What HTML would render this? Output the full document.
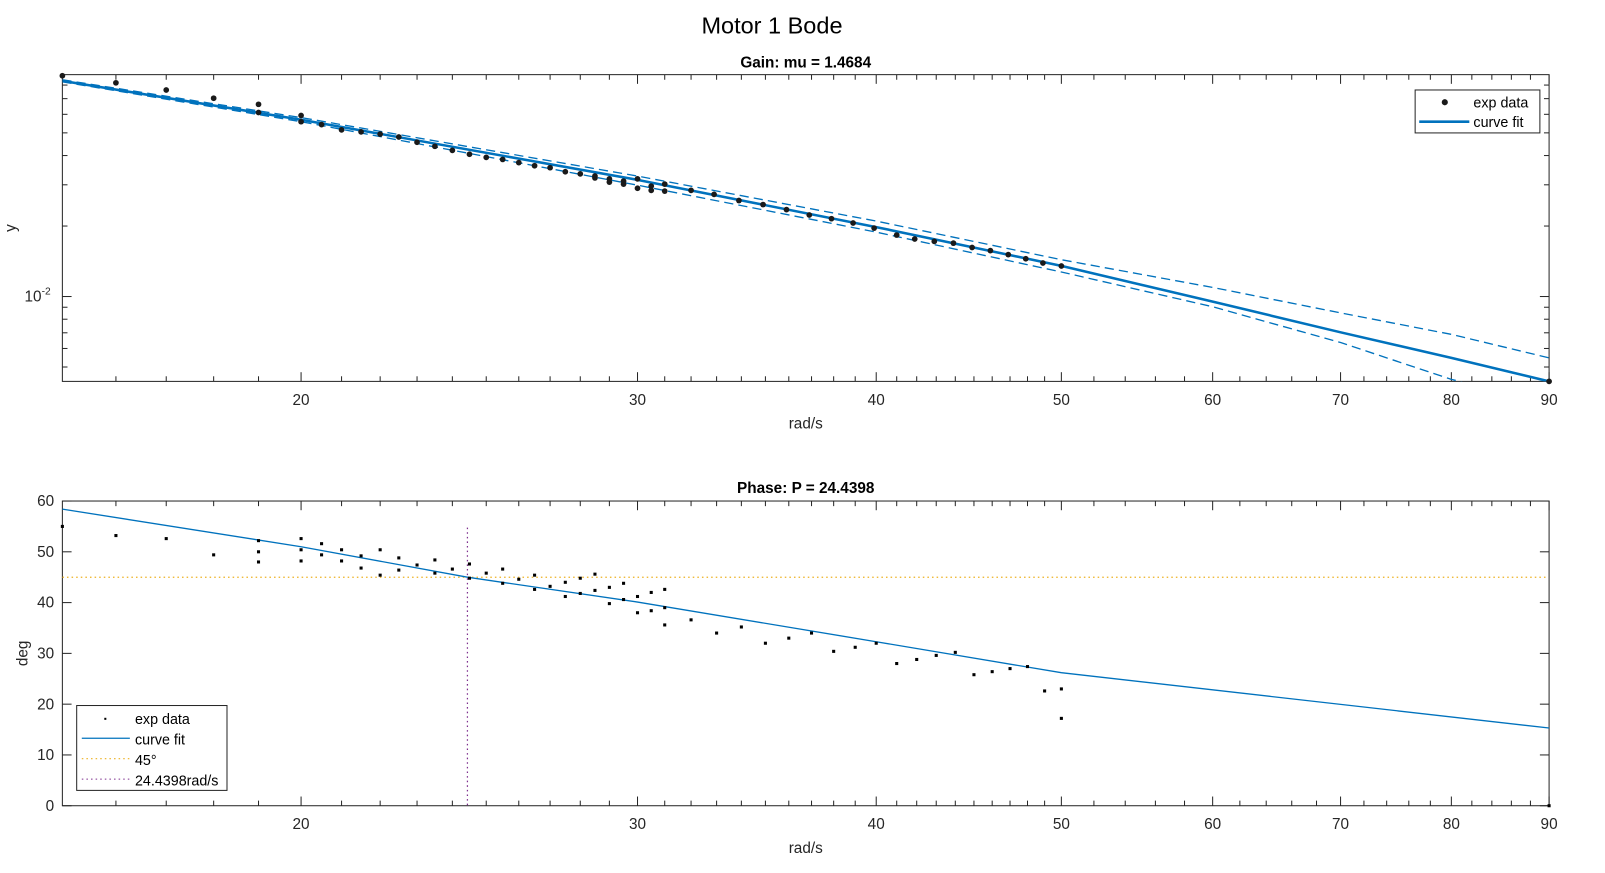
<!DOCTYPE html>
<html><head><meta charset="utf-8"><style>
body{margin:0;background:#fff}
svg{display:block;font-family:"Liberation Sans",Arial,sans-serif}
</style></head><body>
<svg id="chart" width="1605" height="873" viewBox="0 0 1605 873">
<defs><clipPath id="c1"><rect x="61" y="73" width="1454" height="300"/></clipPath></defs>
<rect width="1605" height="873" fill="#fff"/>
<g id="root" transform="scale(1.0225)">
<text x="755" y="33" font-size="23" text-anchor="middle" fill="#000">Motor 1 Bode</text>
<g id="top"></g><g id="bot"></g>
</g>
</svg>
<script>
// ---- data ----
const gainX=[15,16,17,18,19,19,20,20,20.5,21,21.5,22,22.5,23,23.5,24,24.5,25,25.5,26,26.5,27,27.5,28,28.5,28.5,29,29,29.5,29.5,30,30,30.5,30.5,31,31,32,32.9,33.9,34.9,35.9,36.9,37.9,38.9,39.9,41,41.9,42.9,43.9,44.9,45.9,46.9,47.9,48.9,50,90];
const gainY=[0.0877,0.0818,0.0762,0.0703,0.0662,0.0611,0.0593,0.0558,0.0542,0.0515,0.0505,0.0494,0.0480,0.0456,0.0438,0.0421,0.0405,0.0393,0.0385,0.0373,0.0362,0.0355,0.0341,0.0334,0.0327,0.0321,0.0318,0.0308,0.0311,0.0302,0.0318,0.0290,0.0296,0.0284,0.0302,0.0282,0.0284,0.0273,0.0257,0.0247,0.0235,0.0223,0.0215,0.0206,0.0196,0.0183,0.0176,0.0172,0.0169,0.0162,0.0157,0.0151,0.0145,0.0139,0.0135,0.00434];
const fitX=[15,20,30,40,50,60,70,80,90];
const fitY=[0.0834,0.0569,0.0315,0.0198,0.01352,0.00951,0.00703,0.00547,0.00434];
const upY=[0.0843,0.0581,0.0327,0.0210,0.01436,0.01094,0.00851,0.00689,0.00547];
const loY=[0.0826,0.0558,0.0299,0.01884,0.01273,0.00904,0.00636,0.00443,0.00348];
const phX=[15,16,17,18,19,19,19,20,20,20,20.5,20.5,21,21,21.5,21.5,22,22,22.5,22.5,23,23.5,23.5,24,24.5,24.5,25,25.5,25.5,26,26.5,26.5,27,27.5,27.5,28,28,28.5,28.5,29,29,29.5,29.5,30,30,30.5,30.5,31,31,31,32,33,34,35,36,37,38,39,40,41,42,43,44,45,46,47,48,49,50,50,90];
const phY=[55,53.2,52.6,49.4,52.2,50,48,52.6,50.4,48.2,51.6,49.4,50.4,48.2,49.2,46.8,50.4,45.4,48.8,46.4,47.4,48.4,45.8,46.6,47.6,44.8,45.8,46.6,43.8,44.6,45.4,42.6,43.2,44,41.2,44.8,41.8,45.6,42.4,43,39.8,43.8,40.6,41.2,38,42,38.4,42.6,39,35.6,36.6,34,35.2,32,33,34,30.4,31.2,32,28,28.8,29.6,30.2,25.8,26.4,27,27.4,22.6,23,17.2,0];
const phFitX=[15,20,24.4398,30,40,50,90];
const phFitY=[58.4,51,45,40.1,32.3,26.2,15.3];
const xTicks=[20,30,40,50,60,70,80,90];
const yPhTicks=[0,10,20,30,40,50,60];
const gainMinor=[0.003,0.004,0.005,0.006,0.007,0.008,0.009,0.02,0.03,0.04,0.05,0.06,0.07,0.08];
const crossFreq=24.4398;
// ---- scales ----
const L=61,R=1515;
const xs=v=>L+(Math.log10(v)-Math.log10(15))/(Math.log10(90)-Math.log10(15))*(R-L);
const T1=73,B1=373,D=229;
const ys1=v=>290-(Math.log10(v)+2)*D;
const T2=490,B2=788;
const ys2=v=>B2-(v/60)*(B2-T2);
const NS='http://www.w3.org/2000/svg';
function el(p,tag,a){const e=document.createElementNS(NS,tag);for(const k in a)e.setAttribute(k,a[k]);p.appendChild(e);return e;}
function txt(p,x,y,s,a){const t=el(p,'text',Object.assign({x:x,y:y,'font-size':15,fill:'#262626'},a||{}));t.textContent=s;return t;}
const minor=[];for(let v=16;v<50;v++)if(v%10)minor.push(v);for(let v=52;v<90;v+=2)if(v%10)minor.push(v);
function axes(g,T,B){
  el(g,'rect',{x:L,y:T,width:R-L,height:B-T,fill:'none',stroke:'#262626','stroke-width':1});
  xTicks.forEach(v=>{const x=xs(v);el(g,'line',{x1:x,x2:x,y1:B,y2:B-9,stroke:'#262626'});el(g,'line',{x1:x,x2:x,y1:T,y2:T+9,stroke:'#262626'});
    const t=txt(g,x,B+23,String(v),{'text-anchor':'middle'});
    
    });
  minor.forEach(v=>{const x=xs(v);el(g,'line',{x1:x,x2:x,y1:B,y2:B-5,stroke:'#262626'});el(g,'line',{x1:x,x2:x,y1:T,y2:T+5,stroke:'#262626'});});
  const xl=txt(g,(L+R)/2,B+46,'rad/s',{'text-anchor':'middle'});
  
  
}
function pl(xa,ya,sx,sy){return xa.map((v,i)=>sx(v).toFixed(1)+','+sy(ya[i]).toFixed(1)).join(' ');}
// ---- top gain ----
const g1=document.getElementById('top');


axes(g1,T1,B1);
gainMinor.forEach(v=>{const y=ys1(v);if(y<T1||y>B1)return;
  el(g1,'line',{x1:L,x2:L+5,y1:y,y2:y,stroke:'#262626'});el(g1,'line',{x1:R,x2:R-5,y1:y,y2:y,stroke:'#262626'});});
{const y=ys1(0.01);el(g1,'line',{x1:L,x2:L+9,y1:y,y2:y,stroke:'#262626'});el(g1,'line',{x1:R,x2:R-9,y1:y,y2:y,stroke:'#262626'});}
const yl=txt(g1,24,ys1(0.01)+5,'10',{'text-anchor':'start'});


const ex=el(yl,'tspan',{dy:-7,'font-size':10});ex.textContent='-2';
const yt=txt(g1,15,223,'y',{'text-anchor':'middle',transform:'rotate(-90 15 223)'});


const st1=txt(g1,788,66,'Gain: mu = 1.4684',{'text-anchor':'middle','font-weight':'bold','fill':'#000'});


const pc=el(g1,'g',{'clip-path':'url(#c1)'});
[upY,loY].forEach((arr,i)=>{const p=el(pc,'polyline',{points:pl(fitX,arr,xs,ys1),fill:'none',stroke:'#0072BD','stroke-width':1.3,'stroke-dasharray':'9,5'});
  
  });
const fl=el(pc,'polyline',{points:pl(fitX,fitY,xs,ys1),fill:'none',stroke:'#0072BD','stroke-width':2.5});


gainX.forEach((v,i)=>{const c=el(g1,'circle',{cx:xs(v),cy:ys1(gainY[i]),r:2.8,fill:'#1a1a1a'});
  
  });
const lg1=el(g1,'g',{});


el(lg1,'rect',{x:1384,y:88,width:122,height:42,fill:'#fff',stroke:'#262626'});
el(lg1,'circle',{cx:1413,cy:100,r:3,fill:'#1a1a1a'});
txt(lg1,1441,105,'exp data',{'font-size':14,fill:'#000'});
el(lg1,'line',{x1:1388,x2:1437,y1:119,y2:119,stroke:'#0072BD','stroke-width':2.5});
txt(lg1,1441,124,'curve fit',{'font-size':14,fill:'#000'});
// ---- bottom phase ----
const g2=document.getElementById('bot');


axes(g2,T2,B2);
yPhTicks.forEach(v=>{const y=ys2(v);el(g2,'line',{x1:L,x2:L+9,y1:y,y2:y,stroke:'#262626'});el(g2,'line',{x1:R,x2:R-9,y1:y,y2:y,stroke:'#262626'});
  const t=txt(g2,53,y+5,String(v),{'text-anchor':'end'});
  
  });
const yt2=txt(g2,27,639,'deg',{'text-anchor':'middle',transform:'rotate(-90 27 639)'});


const st2=txt(g2,788,482,'Phase: P = 24.4398',{'text-anchor':'middle','font-weight':'bold',fill:'#000'});


const h45=el(g2,'line',{x1:L,x2:R-3,y1:ys2(45),y2:ys2(45),stroke:'#EDB120','stroke-width':1.2,'stroke-dasharray':'1.5,3'});


const vl=el(g2,'line',{x1:xs(crossFreq),x2:xs(crossFreq),y1:516,y2:B2,stroke:'#7E2F8E','stroke-width':1.2,'stroke-dasharray':'1.5,3'});


const pf=el(g2,'polyline',{points:pl(phFitX,phFitY,xs,ys2),fill:'none',stroke:'#0072BD','stroke-width':1.3});


phX.forEach((v,i)=>{const r=el(g2,'rect',{x:xs(v)-1.5,y:ys2(phY[i])-1.5,width:3,height:3,fill:'#000'});
  
  });
const lg2=el(g2,'g',{});


el(lg2,'rect',{x:75,y:690,width:147,height:83,fill:'#fff',stroke:'#262626'});
el(lg2,'rect',{x:102,y:702,width:2,height:2,fill:'#000'});
txt(lg2,132,708,'exp data',{'font-size':14,fill:'#000'});
el(lg2,'line',{x1:80,x2:127,y1:722,y2:722,stroke:'#0072BD','stroke-width':1.3});
txt(lg2,132,728,'curve fit',{'font-size':14,fill:'#000'});
el(lg2,'line',{x1:80,x2:127,y1:742,y2:742,stroke:'#EDB120','stroke-dasharray':'1.5,3'});
txt(lg2,132,748,'45°',{'font-size':14,fill:'#000'});
el(lg2,'line',{x1:80,x2:127,y1:762,y2:762,stroke:'#7E2F8E','stroke-dasharray':'1.5,3'});
txt(lg2,132,768,'24.4398rad/s',{'font-size':14,fill:'#000'});
</script>
</body></html>
